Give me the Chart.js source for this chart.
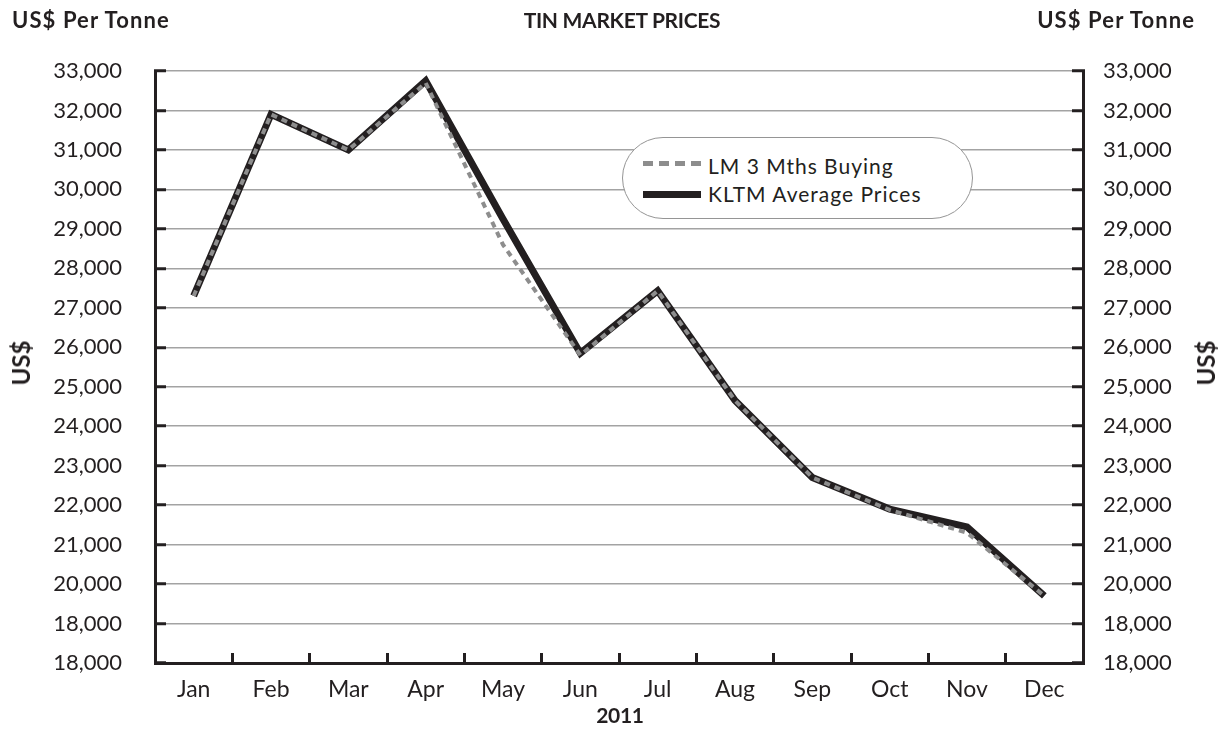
<!DOCTYPE html>
<html lang="en">
<head>
    <meta charset="UTF-8">
    <title>Tin Market Prices</title>
    <script src="https://cdn.jsdelivr.net/npm/chart.js"></script>
    <style>
        body {
            margin: 0;
            padding: 0;
            background: #fff;
            font-family: Lato, "Noto Sans", sans-serif;
            color: #231f20;
        }
        .wrap {
            position: relative;
            width: 1225px;
            height: 742px;
            overflow: hidden;
        }
        canvas { position: absolute; left: 0; top: 0; }
        .lbl {
            position: absolute;
            font-weight: bold;
            font-size: 22px;
            line-height: 22px;
            white-space: nowrap;
            letter-spacing: 1.1px;
        }
        .title { font-size: 21px; line-height: 21px; letter-spacing: -0.3px; }
        .center { transform: translateX(-50%); }
        .yt {
            position: absolute;
            font-weight: bold;
            font-size: 24px;
            line-height: 24px;
            white-space: nowrap;
            transform: translate(-50%, -50%) rotate(-90deg);
        }
        .legend {
            position: absolute;
            left: 622px;
            top: 137px;
            width: 351px;
            height: 82px;
            box-sizing: border-box;
            border: 1px solid #959595;
            border-radius: 41px;
            background: #fff;
        }
        .legend .sample { position: absolute; left: 20px; width: 58px; }
        .legend .dash {
            top: 23px;
            height: 5px;
            background: repeating-linear-gradient(to right, #8d8d8d 0 10px, transparent 10px 16px);
        }
        .legend .solid { top: 53px; height: 7px; background: #231f20; }
        .legend .txt {
            position: absolute;
            left: 85px;
            font-size: 21px;
            line-height: 21px;
            letter-spacing: 1px;
            white-space: nowrap;
        }
    </style>
</head>
<body>
<div class="wrap">
    <canvas id="tinChart" width="1225" height="742"></canvas>

    <div class="lbl" style="left:12px; top:9px;">US$ Per Tonne</div>
    <div class="lbl title center" style="left:622px; top:9px;">TIN MARKET PRICES</div>
    <div class="lbl" style="right:30px; top:9px;">US$ Per Tonne</div>
    <div class="lbl title center" style="left:620px; top:704px;">2011</div>
    <div class="yt" style="left:21px; top:363px;">US$</div>
    <div class="yt" style="left:1206px; top:363px;">US$</div>

    <div class="legend">
        <div class="sample dash"></div>
        <div class="txt" style="top:17px;">LM 3 Mths Buying</div>
        <div class="sample solid"></div>
        <div class="txt" style="top:45px;">KLTM Average Prices</div>
    </div>
</div>

<script>
    // values
    const months = ["Jan", "Feb", "Mar", "Apr", "May", "Jun", "Jul", "Aug", "Sep", "Oct", "Nov", "Dec"];
    const lm3Mths = [27300, 31900, 31000, 32700, 28600, 25800, 27430, 24650, 22700, 21880, 21300, 19700];
    const kltmAvg = [27300, 31900, 31000, 32750, 29250, 25850, 27430, 24650, 22700, 21900, 21450, 19700];
    // tick labels as printed (bottom to top)
    const yTickLabels = ["18,000", "18,000", "20,000", "21,000", "22,000", "23,000", "24,000", "25,000",
        "26,000", "27,000", "28,000", "29,000", "30,000", "31,000", "32,000", "33,000"];

    const ink = "#231f20";
    const tickFont = { family: "Lato", size: 22 };

    function yAxis(pos, pad, width, onArea) {
        return {
            type: "linear",
            position: pos,
            min: 18000,
            max: 33000,
            afterFit: s => { s.width = width; },
            ticks: {
                stepSize: 1000,
                color: ink,
                font: tickFont,
                padding: pad,
                callback: (v, i) => yTickLabels[i]
            },
            grid: {
                drawOnChartArea: onArea,
                color: "#a3a3a3",
                lineWidth: 1.5,
                drawTicks: true,
                tickLength: -11,
                tickColor: ink,
                tickWidth: 3
            },
            border: { display: true, color: ink, width: 3 }
        };
    }

    new Chart(document.getElementById("tinChart"), {
        type: "line",
        data: {
            labels: months,
            datasets: [
                {
                    label: "LM 3 Mths Buying",
                    data: lm3Mths,
                    borderColor: "#8d8d8d",
                    borderWidth: 4,
                    borderDash: [6, 5],
                    pointRadius: 0,
                    tension: 0,
                    fill: false,
                    order: 0
                },
                {
                    label: "KLTM Average Prices",
                    data: kltmAvg,
                    borderColor: ink,
                    borderWidth: 7,
                    pointRadius: 0,
                    tension: 0,
                    fill: false,
                    order: 1
                }
            ]
        },
        options: {
            responsive: false,
            animation: false,
            layout: { padding: { top: 71, left: 0, right: 0, bottom: 0 } },
            plugins: {
                legend: { display: false },
                tooltip: { enabled: false }
            },
            scales: {
                x: {
                    type: "category",
                    offset: true,
                    afterFit: s => { s.height = 79; },
                    ticks: {
                        color: ink,
                        font: { family: "Lato", size: 23 },
                        padding: 23,
                        maxRotation: 0,
                        autoSkip: false
                    },
                    grid: {
                        offset: true,
                        drawOnChartArea: false,
                        drawTicks: true,
                        tickLength: -10,
                        tickColor: ink,
                        tickWidth: 3
                    },
                    border: { display: true, color: ink, width: 3 }
                },
                y: yAxis("left", 44, 155, true),
                y2: yAxis("right", 31, 142, false)
            }
        }
    });
</script>
</body>
</html>
